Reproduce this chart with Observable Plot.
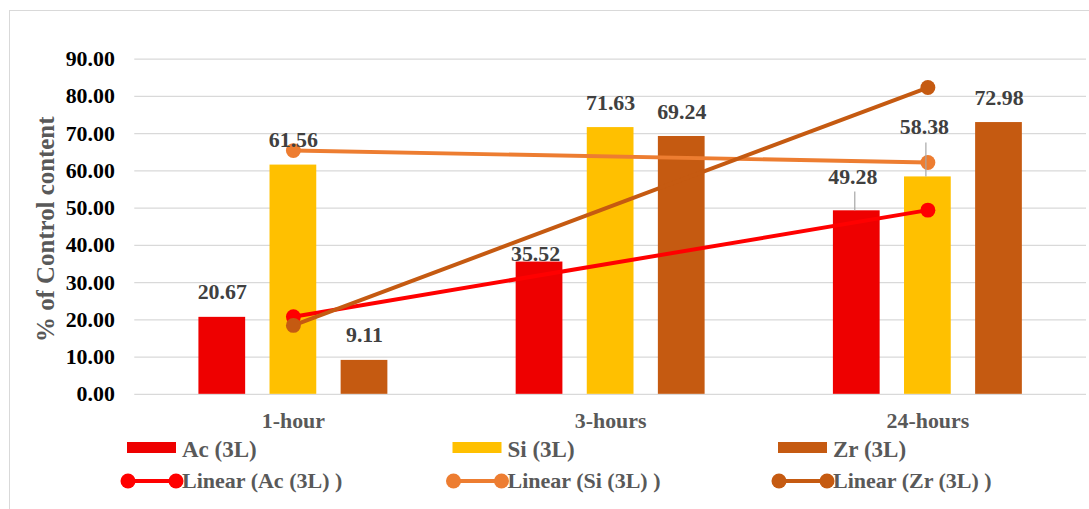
<!DOCTYPE html>
<html><head><meta charset="utf-8">
<script src="https://cdn.jsdelivr.net/npm/d3@7"></script>
<script src="https://cdn.jsdelivr.net/npm/@observablehq/plot@0.6"></script>
<style>
html,body{margin:0;padding:0;background:#fff;overflow:hidden}
#wrap{position:relative;width:1089px;height:509px;overflow:hidden}
#frame{position:absolute;left:9px;top:10px;width:1200px;height:600px;border:1.5px solid #d9d9d9;box-sizing:border-box}
#chart{position:absolute;left:0;top:0}
#legend{position:absolute;left:0;top:430px}
#wrap text{font-family:"Liberation Serif","Times New Roman",Tinos,Times,"DejaVu Serif",serif !important;font-weight:bold}
</style></head><body>
<div id="wrap"><div id="frame"></div><div id="chart"></div><div id="legend"></div></div>
<script>
const categories = ["1-hour", "3-hours", "24-hours"];
const seriesNames = ["Ac (3L)", "Si (3L)", "Zr (3L)"];
const acValues = [20.67, 35.52, 49.28];
const siValues = [61.56, 71.63, 58.38];
const zrValues = [9.11, 69.24, 72.98];
const trendCategories = ["1-hour", "24-hours"];
const acTrend = [20.85, 49.46];
const siTrend = [65.45, 62.27];
const zrTrend = [18.51, 82.38];
const trendNames = ["Linear (Ac (3L) )", "Linear (Si (3L) )", "Linear (Zr (3L) )"];
const yTicks = [0, 10, 20, 30, 40, 50, 60, 70, 80, 90];
const yTitle = "% of Control content";

const barColors = ["#EE0000", "#FFC000", "#C55A11"];
const trendColors = ["#FF0000", "#ED7D31", "#C55A11"];
const step = 71.5;
const offsets = [-step, 0, step];
const seriesValues = [acValues, siValues, zrValues];
const trends = [acTrend, siTrend, zrTrend];

const rows = [];
categories.forEach((c, i) => seriesValues.forEach((vals, j) => rows.push({cat: c, j, value: vals[i]})));
const moved = [
  {cat: "3-hours", j: 0, dx: -4, dy: -1, lead: 0},
  {cat: "24-hours", j: 0, dx: -4, dy: -27, lead: 19},
  {cat: "24-hours", j: 1, dx: -3.5, dy: -43, lead: 34}
];
const isMoved = d => moved.some(m => m.cat === d.cat && m.j === d.j);
const font = {fontFamily: "Liberation Serif", fontWeight: "bold", fontSize: 22};

const marks = [
  Plot.gridY(yTicks, {stroke: "#d9d9d9", strokeOpacity: 1, strokeWidth: 1.3}),
  Plot.axisY(yTicks, {tickSize: 0, tickPadding: 20, tickFormat: d => d.toFixed(2), label: null, color: "#000", ...font}),
  Plot.axisX({tickSize: 0, tickPadding: 18, label: null, color: "#595959", ...font}),
  Plot.text([yTitle], {frameAnchor: "left", textAnchor: "middle", dx: -89, dy: 2.5, rotate: -90, fill: "#595959", ...font, fontSize: 25})
];
seriesValues.forEach((vals, j) => {
  marks.push(Plot.barY(rows.filter(d => d.j === j), {x: "cat", y: "value", fill: barColors[j], insetLeft: 136, insetRight: 136, dx: offsets[j]}));
});
trends.forEach((t, j) => {
  const pts = trendCategories.map((c, k) => ({cat: c, v: t[k]}));
  marks.push(Plot.line(pts, {x: "cat", y: "v", stroke: trendColors[j], strokeWidth: 4}));
  marks.push(Plot.dot(pts, {x: "cat", y: "v", r: 7.5, fill: trendColors[j]}));
});
moved.filter(m => m.lead).forEach(m => {
  const d = rows.filter(r => r.cat === m.cat && r.j === m.j);
  marks.push(Plot.ruleX(d, {x: "cat", y1: "value", y2: "value", insetBottom: m.lead, stroke: "#a6a6a6", strokeWidth: 1.2, dx: offsets[m.j] - 2}));
});
seriesValues.forEach((vals, j) => {
  marks.push(Plot.text(rows.filter(d => d.j === j && !isMoved(d)), {x: "cat", y: "value", text: d => d.value.toFixed(2), lineAnchor: "bottom", dx: offsets[j], dy: -18, fill: "#404040", ...font}));
});
moved.forEach(m => {
  const d = rows.filter(r => r.cat === m.cat && r.j === m.j);
  marks.push(Plot.text(d, {x: "cat", y: "value", text: d => d.value.toFixed(2), lineAnchor: "bottom", dx: offsets[m.j] + m.dx, dy: m.dy, fill: "#404040", ...font}));
});

const chart = Plot.plot({
  width: 1095, height: 440,
  marginLeft: 135, marginRight: 3, marginTop: 59, marginBottom: 44,
  style: {background: "transparent", overflow: "visible", fontFamily: "Liberation Serif, serif"},
  x: {domain: categories, padding: 0, axis: null},
  y: {domain: [0, 90], axis: null},
  marks
});
document.getElementById("chart").append(chart);

// Legend
const lg = d3.select("#legend").append("svg").attr("width", 1089).attr("height", 79);
const cols = [127, 452.5, 778];
seriesNames.forEach((s, j) => {
  const g = lg.append("g").attr("transform", `translate(${cols[j]},0)`);
  g.append("rect").attr("x", 0).attr("y", 12).attr("width", 49).attr("height", 11).attr("fill", barColors[j]);
  g.append("text").attr("x", 55).attr("y", 27).text(s)
    .attr("font-size", 23).attr("fill", "#595959");
  const g2 = lg.append("g").attr("transform", `translate(${cols[j]},0)`);
  g2.append("line").attr("x1", 1).attr("x2", 49).attr("y1", 51).attr("y2", 51).attr("stroke", trendColors[j]).attr("stroke-width", 4);
  g2.append("circle").attr("cx", 1).attr("cy", 51).attr("r", 7.5).attr("fill", trendColors[j]);
  g2.append("circle").attr("cx", 49).attr("cy", 51).attr("r", 7.5).attr("fill", trendColors[j]);
  g2.append("text").attr("x", 55).attr("y", 58).text(trendNames[j])
    .attr("font-size", 22).attr("fill", "#595959");
});
</script>
</body></html>
